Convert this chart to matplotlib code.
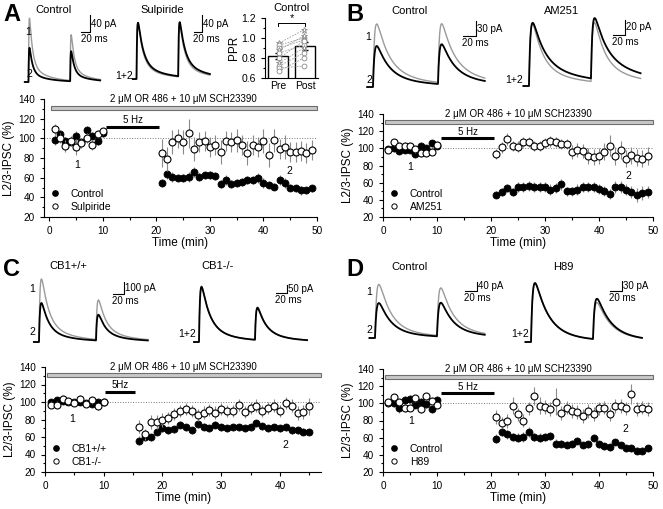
import numpy as np
import matplotlib
matplotlib.use("Agg")
import matplotlib.pyplot as plt
from matplotlib.lines import Line2D
from matplotlib.patches import Rectangle
from matplotlib.ticker import MultipleLocator

plt.rcParams['font.family'] = ['Liberation Sans', 'DejaVu Sans']
plt.rcParams['axes.linewidth'] = 0.8

W, H = 663, 509

# ---------------- time course data (% of baseline IPSC) ----------------
t_pre = list(range(1, 11))
t_post = list(range(21, 50))
t_post_c = list(range(16, 46))

# A
a_ctrl = [98, 104, 97, 96, 102, 96, 108, 102, 97, 105,
          55, 64, 61, 60, 60, 61, 66, 61, 63, 63, 62, 54, 58, 54, 55, 56, 58, 58, 60,
          55, 53, 51, 58, 55, 50, 49, 47, 47, 49]
a_ctrl_err = [5, 4, 4, 4, 5, 4, 5, 4, 4, 4,
              4, 5, 5, 4, 4, 5, 5, 4, 4, 4, 4, 4, 5, 4, 4, 4, 4, 4, 5,
              5, 4, 4, 5, 5, 4, 4, 5, 4, 4]
a_sulp = [109, 100, 92, 97, 91, 95, 100, 93, 104, 107,
          85, 79, 96, 100, 96, 105, 89, 96, 97, 91, 93, 86, 97, 96, 98, 93, 85, 93, 91,
          97, 83, 98, 89, 91, 86, 86, 87, 85, 88]
a_sulp_err = [6, 5, 6, 5, 8, 5, 5, 5, 4, 4,
              14, 12, 12, 10, 12, 15, 12, 10, 10, 10, 10, 12, 10, 10, 12, 10, 12, 10, 10,
              12, 12, 12, 10, 12, 10, 10, 10, 10, 10]

# B
b_ctrl = [99, 100, 97, 98, 98, 93, 103, 100, 106, 103,
          46, 49, 54, 49, 55, 55, 56, 55, 55, 55, 52, 54, 58, 50, 50, 52, 55, 55, 55,
          53, 50, 47, 55, 55, 52, 49, 46, 48, 49]
b_ctrl_err = [4, 4, 4, 4, 4, 4, 4, 4, 4, 4,
              4, 5, 5, 5, 6, 6, 6, 6, 6, 6, 6, 6, 6, 5, 5, 6, 6, 6, 6,
              6, 6, 6, 7, 7, 6, 7, 8, 8, 7]
b_am = [98, 107, 103, 103, 103, 99, 94, 94, 96, 104,
        93, 101, 111, 103, 102, 107, 107, 103, 103, 106, 108, 107, 105, 105, 96, 98, 97, 91, 90,
        91, 96, 103, 91, 98, 88, 92, 89, 88, 91]
b_am_err = [4, 4, 4, 4, 4, 4, 4, 4, 4, 4,
            6, 6, 7, 6, 6, 6, 6, 6, 6, 6, 6, 6, 6, 6, 8, 8, 8, 9, 9,
            9, 10, 12, 10, 10, 10, 10, 10, 10, 10]

# C
c_wt = [100, 102, 101, 100, 100, 100, 99, 98, 99.5, 100,
        56, 59.5, 60, 66, 70, 68, 69, 74, 71, 68, 74.5, 72, 70, 74, 71, 70, 71, 71, 70, 71,
        75.5, 72.5, 70, 71, 70, 71, 68, 68, 66, 66]
c_wt_err = [3, 3, 3, 3, 3, 3, 3, 3, 3, 3,
            5, 4, 4, 4, 4, 4, 4, 4, 4, 4, 4, 4, 4, 4, 4, 4, 4, 4, 4, 4,
            4, 4, 4, 4, 4, 4, 4, 4, 4, 4]
c_ko = [97, 97, 104, 101, 99, 104, 98, 102, 95, 100,
        72, 63, 77.5, 77.5, 80, 82, 86, 90, 92, 90, 85, 88, 91, 88, 92, 90, 90, 97, 89, 93,
        96, 90, 93, 96, 89.5, 98.6, 96, 88, 89, 95]
c_ko_err = [4, 4, 4, 4, 4, 4, 4, 4, 4, 4,
            7, 6, 8, 8, 8, 7, 7, 7, 7, 7, 7, 7, 7, 7, 7, 7, 7, 7, 7, 7,
            7, 7, 7, 7, 7, 7, 7, 8, 8, 10]

# D
d_ctrl = [100, 100, 94, 104, 105, 98, 102, 99, 93, 104,
          59, 67, 64, 61, 60, 61, 67, 61, 60, 61, 62, 53, 53, 52, 53, 56.5, 51.5, 52.5, 60,
          52.5, 50, 49, 55, 51.5, 47.5, 47.5, 45, 45, 47.5]
d_ctrl_err = [4, 4, 5, 5, 5, 4, 4, 4, 4, 4,
              5, 5, 5, 5, 5, 6, 6, 5, 5, 5, 5, 5, 4, 4, 4, 4, 4, 4, 4,
              4, 4, 4, 4, 4, 4, 4, 4, 4, 4]
d_h89 = [101, 107, 101, 94, 95, 106, 93, 108, 103, 98,
         84.5, 77.5, 79, 97, 87, 80, 94, 108.5, 97, 96, 93, 102, 89, 95, 91, 90, 85, 91, 88,
         94, 95, 87, 97, 97, 94, 111, 93, 95, 93]
d_h89_err = [4, 4, 4, 4, 4, 4, 4, 4, 4, 4,
             8, 6, 8, 10, 8, 8, 8, 10, 10, 8, 8, 16, 8, 8, 8, 8, 8, 8, 8,
             8, 8, 8, 8, 8, 8, 12, 8, 8, 8]

# ---------------- PPR inset (panel A) ----------------
ppr_groups = ['Pre', 'Post']
ppr_mean = [0.82, 0.92]
ppr_sem = [0.03, 0.04]
ppr_pre = [0.95, 0.93, 0.90, 0.88, 0.85, 0.80, 0.75, 0.72, 0.70, 0.67]
ppr_post = [1.08, 1.00, 0.98, 1.02, 0.93, 0.97, 0.90, 0.85, 0.72, 0.80]
ppr_mark = ['*', 'o', 'o', '*', 'o', 'o', '*', 'o', 'o', 'o']

# ---------------- example traces: amplitudes (pA) of pulse 1 and 2 ----------------
# (gray = 1, before; black = 2, after), kinetics: rise, fast decay, slow decay (ms), slow fraction
tr_a_ctrl = dict(g=[153, 110], k=[82, 72], kin=(1.0, 7, 40, 0.2))
tr_a_sulp = dict(g=[135, 128], k=[135, 130], kin=(1.5, 11, 50, 0.2))
tr_b_ctrl = dict(g=[126, 118], k=[82, 80], kin=(2.5, 18, 70, 0.2))
tr_b_am = dict(g=[80, 76], k=[81, 78], kin=(2.5, 16, 70, 0.2))
tr_c_wt = dict(g=[525, 330], k=[325, 215], kin=(2.0, 12, 50, 0.2))
tr_c_ko = dict(g=[365, 215], k=[360, 210], kin=(2.0, 14, 50, 0.2))
tr_d_ctrl = dict(g=[230, 205], k=[150, 145], kin=(3.0, 18, 60, 0.15))
tr_d_h89 = dict(g=[177, 110], k=[177, 122], kin=(3.0, 20, 60, 0.15))
interval = 100  # ms between pulses

fig = plt.figure(figsize=(W / 100, H / 100), dpi=100)


def box(x0, y0, x1, y1):
    return [x0 / W, 1 - y1 / H, (x1 - x0) / W, (y1 - y0) / H]


def ptext(x, y, s, **kw):
    kw.setdefault('fontsize', 7.5)
    fig.text(x / W, 1 - y / H, s, **kw)


def ipsc(t, amps, kin):
    tr, tf, ts, fs = kin
    tt = np.linspace(0, 300, 6001)
    norm = ((1 - np.exp(-tt / tr)) * ((1 - fs) * np.exp(-tt / tf) + fs * np.exp(-tt / ts))).max()
    out = np.zeros_like(t)
    for i, a in enumerate(amps):
        s = t - i * interval
        m = s > 0
        out[m] += a * (1 - np.exp(-s[m] / tr)) * ((1 - fs) * np.exp(-s[m] / tf)
                                                  + fs * np.exp(-s[m] / ts)) / norm
    return out


def trace_panel(pbox, ox, by, ppm, ppa, tr, t_end, sb_corner, sb_pa, black_slow=None):
    x0, y0, x1, y1 = pbox
    ax = fig.add_axes(box(*pbox))
    ax.set_xlim((x0 - ox) / ppm, (x1 - ox) / ppm)
    ax.set_ylim((by - y1) / ppa, (by - y0) / ppa)
    ax.axis('off')
    t = np.linspace(-9, t_end, 1500)
    kin_k = tr['kin'] if black_slow is None else black_slow
    ax.plot(t, ipsc(t, tr['g'], tr['kin']), color='#9a9a9a', lw=1.0)
    ax.plot(t, ipsc(t, tr['k'], kin_k), color='k', lw=1.3)
    tc, ic = sb_corner
    ax.plot([tc - 20, tc, tc], [ic, ic, ic + sb_pa], color='k', lw=0.8)
    ax.text(tc + 2, ic + sb_pa * 0.5, '%d pA' % sb_pa, fontsize=7, va='center', ha='left')
    ax.text(tc - 21, ic - 2 / ppa, '20 ms', fontsize=7, va='top', ha='left')
    return ax


def time_course(pbox, xlim, t_all, y1, e1, y2, e2, names, drug_end, hz, hz_label, n1, n2):
    ax = fig.add_axes(box(*pbox))
    ax.errorbar(t_all, y1, yerr=e1, fmt='o', ms=5, mfc='k', mec='k', mew=0.6,
                ecolor='#8a8a8a', elinewidth=0.8, capsize=0, zorder=2)
    ax.errorbar(t_all, y2, yerr=e2, fmt='o', ms=5, mfc='white', mec='k', mew=0.8,
                ecolor='#8a8a8a', elinewidth=0.8, capsize=0, zorder=3)
    ax.axhline(100, color='#777777', lw=0.7, ls=':', zorder=1)
    ax.add_patch(Rectangle((0.3, 128.8), drug_end - 0.3, 4.4, fc='#c8c8c8', ec='#6e6e6e',
                           lw=0.8, clip_on=False))
    ax.text(drug_end / 2, 134.5, '2 \u03bcM OR 486 + 10 \u03bcM SCH23390', fontsize=7,
            ha='center', va='bottom')
    ax.plot(hz, [112, 112], color='k', lw=2.2, solid_capstyle='butt')
    ax.text(sum(hz) / 2, 113.5, hz_label, fontsize=7, ha='center', va='bottom')
    ax.text(n1[0], n1[1], '1', fontsize=7.5, ha='center', va='center')
    ax.text(n2[0], n2[1], '2', fontsize=7.5, ha='center', va='center')
    ax.set_xlim(*xlim)
    ax.set_ylim(20, 140)
    ax.set_yticks(range(20, 141, 20))
    ax.xaxis.set_major_locator(MultipleLocator(10))
    ax.xaxis.set_minor_locator(MultipleLocator(5))
    ax.yaxis.set_minor_locator(MultipleLocator(10))
    ax.tick_params(which='both', direction='out', labelsize=7.2, width=0.8)
    ax.tick_params(which='major', length=3)
    ax.tick_params(which='minor', length=1.8)
    for s in ['top', 'right']:
        ax.spines[s].set_visible(False)
    ax.set_xlabel('Time (min)', fontsize=8.5, labelpad=1)
    ax.set_ylabel('L2/3-IPSC (%)', fontsize=8.5, labelpad=2)
    handles = [Line2D([], [], ls='none', marker='o', ms=3.8, mfc='k', mec='k'),
               Line2D([], [], ls='none', marker='o', ms=3.8, mfc='white', mec='k', mew=0.7)]
    ax.legend(handles, names, loc='lower left', frameon=False, fontsize=7.5,
              handlelength=0.6, handletextpad=1.2, labelspacing=0.3,
              borderaxespad=0.1, bbox_to_anchor=(0.01, 0.0))
    return ax


# ================= Panel A =================
ptext(3, 3, 'A', fontsize=17, fontweight='bold', va='top')
ptext(54, 10, 'Control', fontsize=8, ha='center', va='center')
ptext(162, 10, 'Sulpiride', fontsize=8, ha='center', va='center')
trace_panel((20, 12, 112, 90), 28.5, 82, 0.417, 0.417, tr_a_ctrl, 172, (147, 120), 40)
trace_panel((125, 12, 222, 90), 136.5, 79, 0.417, 0.417, tr_a_sulp, 176, (157, 113), 40,
            black_slow=(1.5, 12, 55, 0.22))
ptext(31, 32, '1', ha='right', va='center')
ptext(32, 74, '2', ha='right', va='center')
ptext(133, 76, '1+2', ha='right', va='center')

ax = fig.add_axes(box(265, 18, 318, 78))
ax.bar([0, 1], ppr_mean, width=0.72, bottom=0, fc='white', ec='k', lw=1.0, zorder=1)
ax.errorbar([0, 1], ppr_mean, yerr=ppr_sem, fmt='none', ecolor='k', elinewidth=0.9,
            capsize=2, zorder=3)
for a, b, m in zip(ppr_pre, ppr_post, ppr_mark):
    ax.plot([0.05, 0.95], [a, b], ls=(0, (2, 1.5)), color='#9a9a9a', lw=0.6, zorder=2)
    ms = 4.5 if m == '*' else 3.5
    ax.plot([0.05, 0.95], [a, b], ls='none', marker=m, ms=ms, mfc='white', mec='#8a8a8a',
            mew=0.6, zorder=4)
ax.plot([0, 0, 1, 1], [1.125, 1.15, 1.15, 1.125], color='k', lw=0.7, clip_on=False)
ax.text(0.5, 1.15, '*', fontsize=8, ha='center', va='bottom')
ax.set_xlim(-0.48, 1.48)
ax.set_ylim(0.6, 1.2)
ax.set_yticks([0.6, 0.8, 1.0, 1.2])
ax.set_yticklabels(['0.6', '0.8', '1.0', '1.2'])
ax.yaxis.set_minor_locator(MultipleLocator(0.1))
ax.set_xticks([0, 1])
ax.set_xticklabels(ppr_groups)
ax.tick_params(which='both', direction='out', labelsize=7.5, width=0.8)
ax.tick_params(axis='x', length=0, pad=2)
ax.tick_params(which='major', axis='y', length=3)
ax.tick_params(which='minor', axis='y', length=1.8)
for s in ['top', 'right']:
    ax.spines[s].set_visible(False)
ax.set_ylabel('PPR', fontsize=8.5, labelpad=1)
ax.set_title('Control', fontsize=8, pad=5)

time_course((44, 99, 317, 217), (-1, 50), t_pre + t_post, a_ctrl, a_ctrl_err, a_sulp, a_sulp_err,
            ['Control', 'Sulpiride'], 50, [10.6, 20.5], '5 Hz', (5.1, 73), (44.9, 67))

# ================= Panel B =================
ptext(346, 3, 'B', fontsize=17, fontweight='bold', va='top')
ptext(410, 11, 'Control', fontsize=8, ha='center', va='center')
ptext(562, 11, 'AM251', fontsize=8, ha='center', va='center')
trace_panel((360, 15, 492, 95), 373, 87, 0.65, 0.5, tr_b_ctrl, 172, (158, 102), 30)
trace_panel((510, 15, 645, 95), 529, 86, 0.62, 0.78, tr_b_am, 180, (155, 65), 20,
            black_slow=(2.5, 19, 90, 0.25))
ptext(371, 37, '1', ha='right', va='center')
ptext(372, 80, '2', ha='right', va='center')
ptext(523, 80, '1+2', ha='right', va='center')

time_course((383, 114, 653, 217), (0, 50), t_pre + t_post, b_ctrl, b_ctrl_err, b_am, b_am_err,
            ['Control', 'AM251'], 50, [10.8, 20.5], '5 Hz', (5.1, 78.6), (45.4, 68))

# ================= Panel C =================
ptext(3, 258, 'C', fontsize=17, fontweight='bold', va='top')
ptext(68, 266, 'CB1+/+', fontsize=8, ha='center', va='center')
ptext(218, 266, 'CB1-/-', fontsize=8, ha='center', va='center')
trace_panel((25, 268, 155, 350), 39, 342, 0.57, 0.12, tr_c_wt, 191, (149, 400), 100)
trace_panel((180, 268, 312, 350), 199, 342, 0.56, 0.153, tr_c_ko, 193, (157, 320), 50)
ptext(35, 289, '1', ha='right', va='center')
ptext(35, 332, '2', ha='right', va='center')
ptext(196, 334, '1+2', ha='right', va='center')

time_course((45, 367, 321, 472), (0, 47), t_pre + t_post_c, c_wt, c_wt_err, c_ko, c_ko_err,
            ['CB1+/+', 'CB1-/-'], 47, [10.3, 15.4], '5Hz', (4.7, 80), (41, 51))

# ================= Panel D =================
ptext(346, 258, 'D', fontsize=17, fontweight='bold', va='top')
ptext(410, 267, 'Control', fontsize=8, ha='center', va='center')
ptext(563, 267, 'H89', fontsize=8, ha='center', va='center')
trace_panel((360, 272, 492, 348), 375, 338, 0.62, 0.233, tr_d_ctrl, 177, (164.5, 202), 40)
trace_panel((515, 272, 645, 350), 531, 342, 0.62, 0.333, tr_d_h89, 179, (147, 153), 30)
ptext(372, 292, '1', ha='right', va='center')
ptext(372, 330, '2', ha='right', va='center')
ptext(529, 334, '1+2', ha='right', va='center')

time_course((383, 369, 653, 472), (0, 50), t_pre + t_post, d_ctrl, d_ctrl_err, d_h89, d_h89_err,
            ['Control', 'H89'], 50, [10.8, 20.5], '5 Hz', (5.2, 80), (44.8, 70))

fig.savefig('out.png', dpi=100)
